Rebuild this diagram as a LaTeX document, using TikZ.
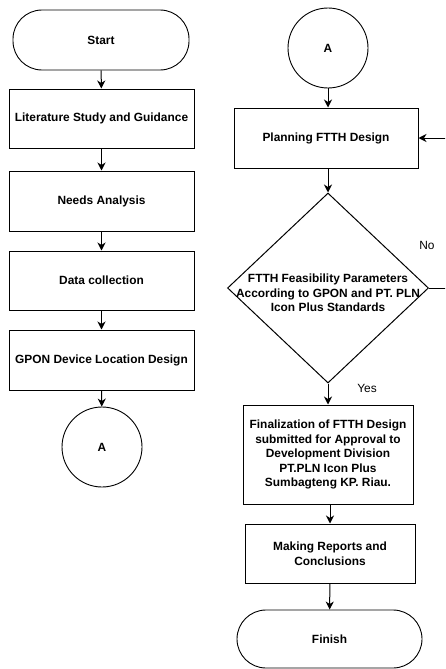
\documentclass[tikz,border=0pt]{standalone}
\usepackage{fontspec}
\setmainfont{Liberation Sans}
\usetikzlibrary{shapes.geometric,arrows.meta}
\begin{document}
\begin{tikzpicture}[x=1pt,y=-1pt,
  every node/.style={font=\bfseries\fontsize{11.9}{14.5}\selectfont, inner sep=0pt, align=center},
  box/.style={draw, line width=1pt, rectangle, minimum width=#1},
  term/.style={draw, line width=0.9pt, rectangle, rounded corners=29pt, minimum width=#1},
  conn/.style={draw, line width=0.9pt, circle, minimum size=80pt},
  arr/.style={draw, line width=1pt, -{Stealth[length=8pt,width=8pt,inset=2.5pt]}},
  lbl/.style={font=\fontsize{11.9}{14}\selectfont}]
\clip (0,0) rectangle (445,669);
\fill[white] (0,0) rectangle (445,669);
% left column
\node[term=176pt, minimum height=60pt] (start) at (101,40) {Start};
\node[box=185pt, minimum height=59pt] (lit) at (101.5,118.5) {Literature Study and Guidance};
\node[box=185pt, minimum height=60pt] (need) at (101.5,201) {Needs Analysis};
\node[box=185pt, minimum height=59pt] (data) at (101.5,280.5) {Data collection};
\node[box=185pt, minimum height=60pt] (gpon) at (101.5,360) {GPON Device Location Design};
\node[conn] (a1) at (102,447) {A};
% right column
\node[conn] (a2) at (328,48) {A};
\node[box=184pt, minimum height=60pt] (plan) at (326,138) {Planning FTTH Design};
\node[draw, line width=1pt, diamond, minimum width=201pt, minimum height=190pt] (dec) at (328,288) {};
\node at ([yshift=-5pt]dec.center) {FTTH Feasibility Parameters\\According to GPON and PT. PLN\\Icon Plus Standards};
\node[box=170pt, minimum height=99pt] (fin) at (328,454.5) {Finalization of FTTH Design\\submitted for Approval to\\Development Division\\PT.PLN Icon Plus\\Sumbagteng KP. Riau.};
\node[box=170pt, minimum height=59pt] (rep) at (330,553.5) {Making Reports and\\Conclusions};
\node[term=185pt, minimum height=58pt] (finish) at (329.5,639) {Finish};
\coordinate (nr) at (470,288);
\coordinate (nt) at (470,138);
% connectors
\draw[arr] (start) -- (lit);
\draw[arr] (lit) -- (need);
\draw[arr] (need) -- (data);
\draw[arr] (data) -- (gpon);
\draw[arr] (gpon) -- (a1);
\draw[arr] (a2) -- (a2 |- plan.north);
\draw[arr] (plan.south -| dec.north) -- (dec.north);
\draw[arr] (dec.south) -- (dec.south |- fin.north);
\draw[arr] (rep.north |- fin.south) -- (rep.north);
\draw[arr] (rep) -- (finish);
\draw[arr] (dec.east) -- (nr) -- (nt) -- (plan.east);
\node[lbl] (no) at (427,245) {No};
\node[lbl] (yes) at (367,388) {Yes};
\end{tikzpicture}
\end{document}
